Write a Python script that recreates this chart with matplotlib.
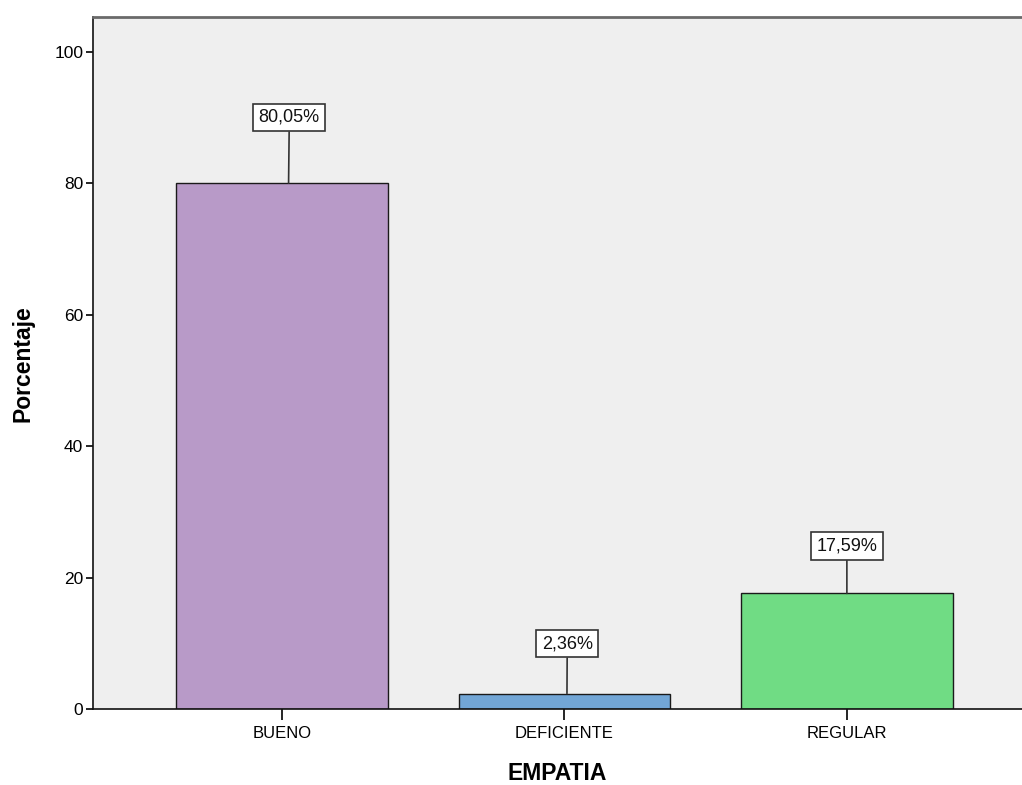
import numpy as np
import matplotlib.pyplot as plt

plt.rcParams['font.family'] = ['Liberation Sans', 'DejaVu Sans']

categories = ['BUENO', 'DEFICIENTE', 'REGULAR']
percentages = [80.05, 2.36, 17.59]
bar_colors = ['#b89ac8', '#72a6d6', '#70dc84']

# label box placement relative to each bar top (x shift, height above bar)
label_dx = [0.026, 0.010, 0.0]
label_dy = [10.0, 7.6, 7.2]

fig = plt.figure(figsize=(10.22, 7.85), dpi=100)
ax = fig.add_axes([0.091, 0.0968, 0.909, 0.8812])
ax.set_facecolor('#efefef')

x = np.arange(len(categories))
ax.bar(x, percentages, width=0.75, color=bar_colors, edgecolor='#1a1a1a',
       linewidth=1.0, zorder=2)

for xi, val, dx, dy in zip(x, percentages, label_dx, label_dy):
    txt = f'{val:.2f}%'.replace('.', ',')
    ax.annotate(txt, xy=(xi + dx * 0.9, val), xytext=(xi + dx, val + dy),
                ha='center', va='center', fontsize=13, color='#111111',
                bbox=dict(boxstyle='square,pad=0.3', fc='white',
                          ec='#333333', lw=1.2),
                arrowprops=dict(arrowstyle='-', color='#333333', lw=1.2,
                                shrinkA=0, shrinkB=0),
                zorder=3)

ax.set_xlim(-0.669, 2.62)
ax.set_ylim(0, 105.3)
ax.set_yticks([0, 20, 40, 60, 80, 100])
ax.set_xticks(x)
ax.set_xticklabels(categories)
ax.tick_params(axis='y', direction='out', length=5, width=1.2,
               labelsize=12.5, pad=2)
ax.tick_params(axis='x', direction='out', length=8, width=1.2,
               labelsize=12, pad=4)

for side in ['left', 'bottom']:
    ax.spines[side].set_color('#111111')
    ax.spines[side].set_linewidth(1.2)
ax.spines['top'].set_color('#6a6a6a')
ax.spines['top'].set_linewidth(2.0)
ax.spines['right'].set_visible(False)

ax.set_ylabel('Porcentaje', fontsize=16.5, fontweight='bold', labelpad=14)
ax.set_xlabel('EMPATIA', fontsize=16.5, fontweight='bold', labelpad=15)

fig.savefig('out.png', dpi=100)
